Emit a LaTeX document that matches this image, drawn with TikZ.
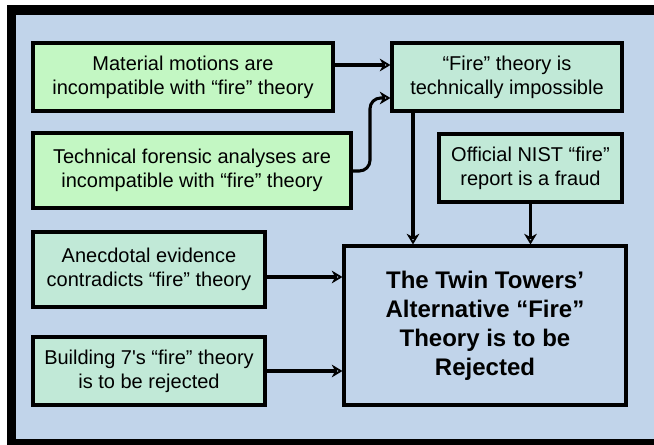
\documentclass[tikz,border=0pt]{standalone}
\usepackage{fontspec}
\newfontfamily\lsans{Liberation Sans}
\usetikzlibrary{arrows.meta}
\definecolor{bgblue}{HTML}{C1D4EA}
\definecolor{lgreen}{HTML}{C3F7C3}
\definecolor{lteal}{HTML}{C1E9D7}
\begin{document}
\begin{tikzpicture}[x=0.75pt,y=-0.75pt,
  box/.style={draw=black, line width=2.3pt, inner sep=0pt, align=center,
    font=\lsans\fontsize{15}{18}\selectfont, text=black},
  conn/.style={draw=black, line width=2.3pt, line join=round,
    -{Stealth[open, length=8pt, width=9.5pt, inset=2.5pt]}}]
\useasboundingbox (0,0) rectangle (654,445);
\fill[white] (0,0) rectangle (654,445);
\fill[bgblue] (7,5) rectangle (654,445);
\fill[black] (7,5) rectangle (16,445);
\fill[black] (7,5) rectangle (654,15);
\fill[black] (7,439) rectangle (654,445);

\node[box, fill=lgreen, minimum width=225pt, minimum height=51pt] (mat) at (183,77)
  {Material motions are\\incompatible with “fire” theory};
\node[box, fill=lteal, minimum width=172.5pt, minimum height=51pt] (fire) at (507,77)
  {“Fire” theory is\\technically impossible};
\node[box, fill=lgreen, minimum width=238.5pt, minimum height=56.25pt] (tech) at (192,170.5)
  {Technical forensic analyses are\\incompatible with “fire” theory};
\node[box, fill=lteal, minimum width=137.25pt, minimum height=51pt] (nist) at (530.5,168)
  {Official NIST “fire”\\report is a fraud};
\node[box, fill=lteal, minimum width=174pt, minimum height=56.25pt] (anec) at (149,269.5)
  {Anecdotal evidence\\contradicts “fire” theory};
\node[box, fill=lteal, minimum width=174pt, minimum height=51pt] (bldg) at (149,371)
  {Building 7's “fire” theory\\is to be rejected};
\node[box, fill=bgblue, minimum width=211.5pt, minimum height=119.25pt,
  font=\lsans\bfseries\fontsize{18}{21.75}\selectfont] (main) at (485,325.5)
  {The Twin Towers’\\Alternative “Fire”\\Theory is to be\\Rejected};

\coordinate (y65) at (0,65);
\coordinate (y98) at (0,98);
\coordinate (y277) at (0,277);
\coordinate (x413) at (413,0);
\coordinate (bendlo) at (370,171);
\coordinate (bendhi) at (370,98);

\draw[conn] (mat.east |- y65) -- (fire.west |- y65);
\draw[conn, rounded corners=8pt] (tech.east |- bendlo) -- (bendlo) -- (bendhi) -- (fire.west |- y98);
\draw[conn] (fire.south -| x413) -- (main.north -| x413);
\draw[conn] (nist.south) -- (main.north -| nist.south);
\draw[conn] (anec.east |- y277) -- (main.west |- y277);
\draw[conn] (bldg.east) -- (main.west |- bldg.east);
\end{tikzpicture}
\end{document}
